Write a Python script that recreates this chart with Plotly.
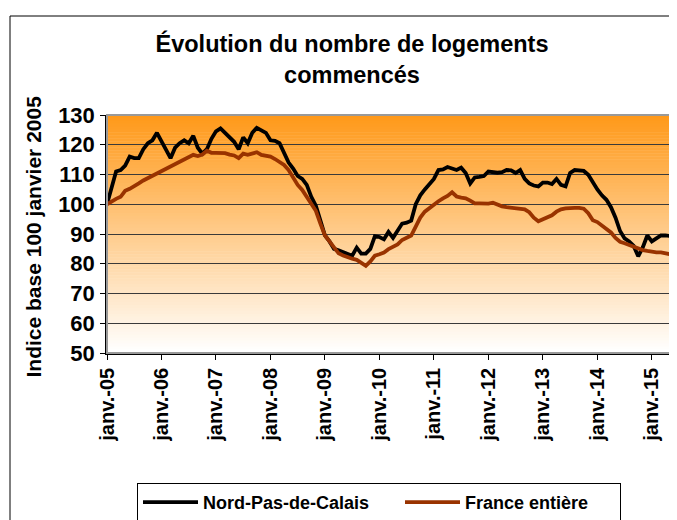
import plotly.graph_objects as go

# ---- data ----
month_names = ["janv.", "févr.", "mars", "avr.", "mai", "juin",
               "juil.", "août", "sept.", "oct.", "nov.", "déc."]
years = ["05", "06", "07", "08", "09", "10", "11", "12", "13", "14", "15"]
months = [f"{m}-{y}" for y in years for m in month_names][:125]   # janv.-05 .. mai-15
tick_labels = [f"janv.-{y}" for y in years]

nord_pas_de_calais = [
    100, 105, 111, 111.5, 113, 116, 115.5, 115.5, 118.5, 120.5, 121.5, 124,
    121, 118.5, 115.5, 119, 120.5, 121.5, 120.5, 123, 119, 117, 118.5, 122,
    124.5, 125.5, 124, 122.5, 121, 118.5, 122.5, 120.5, 124, 125.7, 125, 124,
    121.5, 121.3, 120.5, 117, 114, 112, 109.5, 108.5, 106.5, 102.5, 99.5, 94.5,
    89.5, 87.5, 85, 84.5, 84, 83.5, 82.7, 85.4, 83.4, 83.4, 85, 89.3,
    89, 88.2, 90.7, 88.7, 91, 93.5, 93.8, 94.5, 100, 103, 105, 107,
    108.5, 111.5, 111.7, 112.5, 112, 111.5, 112.3, 110.5, 107, 109, 109.2, 109.5,
    111, 110.7, 110.6, 110.8, 111.5, 111.4, 110.5, 111.5, 108.5, 107, 106.3, 106,
    107.3, 107.3, 106.8, 108.5, 106.5, 106, 110.5, 111.5, 111.4, 111.2, 109.9, 107.3,
    105, 103, 101.5, 99, 95.5, 91, 88.5, 87.5, 86, 82.5, 85.5, 89.5,
    87.5, 88.5, 89.5, 89.5, 89.3,
]
france_entiere = [
    100, 101, 101.8, 102.5, 104.5, 105.2, 106, 107, 108, 108.8, 109.7, 110.5,
    111.3, 112, 112.8, 113.5, 114.3, 115.3, 116, 116.6, 116.2, 116.7, 118, 117.3,
    117.3, 117.3, 117.2, 116.7, 116.4, 115.5, 117, 116.6, 117, 117.5, 116.6, 116.3,
    116, 115.2, 114.2, 113.2, 111.5, 108.8, 106.5, 104.8, 102.5, 100, 97.8, 93.5,
    89.5, 87.5, 85.4, 83.5, 82.8, 82.1, 81.7, 81.3, 80.4, 79.3, 80.8, 82.7,
    83.2, 83.8, 84.9, 85.7, 86.5, 88, 88.8, 89.5, 92.5, 95.5, 97.5, 98.8,
    100, 101, 102, 102.8, 104, 102.6, 102.2, 102, 101.2, 100.3, 100.3, 100.2,
    100.2, 100.5, 99.8, 99.3, 99, 98.8, 98.7, 98.6, 98.3, 97.3, 95.5, 94.3,
    95, 95.6, 96.3, 97.5, 98.3, 98.6, 98.8, 98.8, 98.8, 98.5, 97, 94.6,
    94, 92.7, 91.5, 90.5, 88.7, 87.4, 86.9, 86.3, 85.8, 85.3, 84.6, 84.3,
    84, 83.8, 83.8, 83.6, 83.2,
]
y_ticks = [50, 60, 70, 80, 90, 100, 110, 120, 130]

FONT = "Liberation Sans, Arial, sans-serif"

# page body adds an 8px offset; lay out in figure pixels = screen pixels - 8
OFF = 8
W, H = 677 - OFF, 520 - OFF
PL, PR, PT, PB = 107 - OFF, 670 - OFF, 115 - OFF, 353 - OFF   # plot area
PW, PH = PR - PL, PB - PT


def px_x(X):
    return (X - OFF - PL) / PW


def px_y(Y):
    return (PB - (Y - OFF)) / PH


fig = go.Figure()
fig.add_trace(go.Scatter(x=months, y=nord_pas_de_calais, mode="lines",
                         name="Nord-Pas-de-Calais", legendwidth=192,
                         line=dict(color="#000000", width=3.8)))
fig.add_trace(go.Scatter(x=months, y=france_entiere, mode="lines",
                         name="France entière", legendwidth=150,
                         line=dict(color="#993300", width=3.8)))

# gradient background of the plot area (orange at top to white at bottom)
shapes = []
n_bands = 80
top = (255, 153, 25)
bot = (255, 255, 255)
for k in range(n_bands):
    t = k / (n_bands - 1)
    c = tuple(round(top[j] + (bot[j] - top[j]) * t) for j in range(3))
    y1 = 1 - k / n_bands
    y0 = 1 - (k + 1) / n_bands
    shapes.append(dict(type="rect", xref="paper", yref="paper",
                       x0=0, x1=1, y0=y0, y1=y1 + 0.002,
                       fillcolor=f"rgb{c}", line=dict(width=0), layer="below"))
# plot-area grey border
shapes.append(dict(type="rect", xref="paper", yref="paper", x0=0, x1=1, y0=0, y1=1,
                   line=dict(color="#999999", width=2), layer="above"))
# outer chart border
shapes.append(dict(type="rect", xref="paper", yref="paper",
                   x0=px_x(10), x1=px_x(720), y0=px_y(560), y1=px_y(16),
                   line=dict(color="#000000", width=1)))

fig.update_layout(
    width=W, height=H,
    margin=dict(l=PL, r=W - PR, t=PT, b=H - PB, autoexpand=False),
    paper_bgcolor="white",
    plot_bgcolor="rgba(0,0,0,0)",
    font=dict(family=FONT, color="black"),
    title=dict(text="Évolution du nombre de logements<br>commencés",
               x=(352 - OFF) / W, xanchor="center", xref="container",
               y=1 - 44 / H, yanchor="middle", yref="container",
               font=dict(size=23.5, family=FONT, weight="bold")),
    shapes=shapes,
    showlegend=True,
    legend=dict(orientation="h", x=px_x(137), xanchor="left",
                y=px_y(483), yanchor="top",
                bordercolor="black", borderwidth=1, bgcolor="white",
                font=dict(size=18, family=FONT, weight="bold"),
                itemwidth=55, tracegroupgap=0),
    annotations=[dict(text="Indice base 100 janvier 2005", textangle=-90,
                      xref="paper", yref="paper",
                      x=px_x(33), y=px_y(236.5),
                      xanchor="center", yanchor="middle", showarrow=False,
                      font=dict(size=21, family=FONT, weight="bold"))],
)

fig.update_xaxes(type="category", range=[0, len(months) - 1], automargin=False,
                 tickmode="array", tickvals=months[::12], ticktext=tick_labels,
                 tickangle=-90, ticks="outside", ticklen=5, tickcolor="black",
                 showgrid=False, showline=True, linecolor="black", linewidth=1.5,
                 tickfont=dict(size=20, family=FONT, weight="bold"),
                 zeroline=False)
fig.update_yaxes(range=[50, 130], tickvals=y_ticks, automargin=False,
                 ticks="outside", ticklen=5, tickcolor="black",
                 ticklabelstandoff=1,
                 showgrid=True, gridcolor="#3a3a3a", gridwidth=1,
                 showline=True, linecolor="black", linewidth=1.5,
                 tickfont=dict(size=22, family=FONT, weight="bold"),
                 zeroline=False)

fig.write_html("out.html")
